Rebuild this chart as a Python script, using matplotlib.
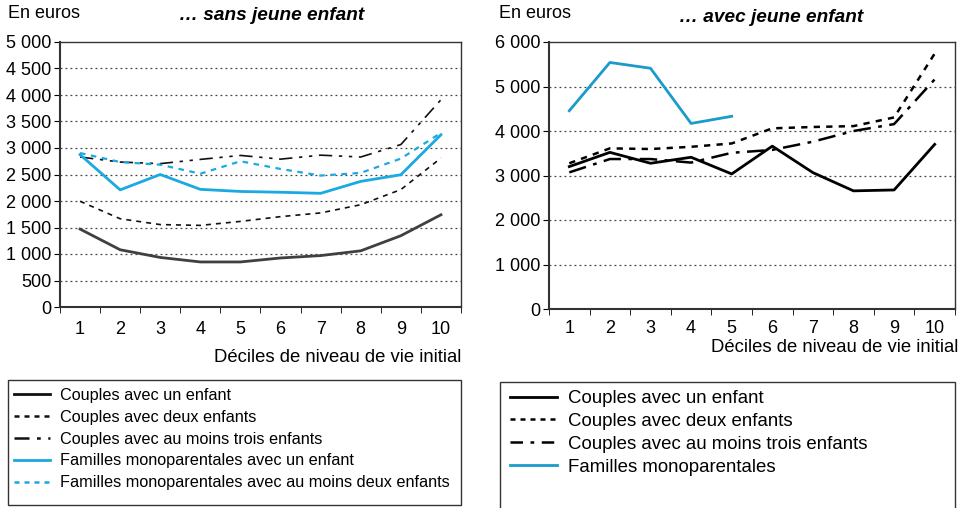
import numpy as np
import matplotlib
matplotlib.use("Agg")
import matplotlib.pyplot as plt
from matplotlib.patches import Rectangle
from matplotlib.lines import Line2D

plt.rcParams['font.family'] = ['Liberation Sans', 'DejaVu Sans']

deciles = list(range(1, 11))

# ... sans jeune enfant
sans_un = [1470, 1080, 935, 850, 850, 925, 970, 1060, 1345, 1740]
sans_deux = [1995, 1665, 1555, 1540, 1615, 1705, 1775, 1930, 2215, 2810]
sans_trois = [2830, 2735, 2705, 2785, 2860, 2790, 2865, 2830, 3065, 3910]
sans_mono_un = [2875, 2210, 2500, 2220, 2180, 2165, 2145, 2370, 2495, 3250]
sans_mono_deux = [2905, 2735, 2685, 2515, 2750, 2605, 2480, 2530, 2800, 3285]

# ... avec jeune enfant
avec_un = [3200, 3520, 3275, 3410, 3035, 3660, 3065, 2655, 2675, 3700]
avec_deux = [3275, 3610, 3595, 3645, 3720, 4060, 4090, 4110, 4305, 5740]
avec_trois = [3070, 3370, 3370, 3290, 3510, 3575, 3760, 4000, 4155, 5160]
avec_mono = [4455, 5540, 5410, 4170, 4330, None, None, None, None, None]

labels_sans = ["Couples avec un enfant", "Couples avec deux enfants",
               "Couples avec au moins trois enfants",
               "Familles monoparentales avec un enfant",
               "Familles monoparentales avec au moins deux enfants"]
labels_avec = ["Couples avec un enfant", "Couples avec deux enfants",
               "Couples avec au moins trois enfants",
               "Familles monoparentales"]

W, H = 962, 508
fig = plt.figure(figsize=(W / 100, H / 100), dpi=100)

BLUE_L = '#1aa9e1'
BLUE_R = '#1b9bc9'
GRID = '#444444'
FS = 13


def fx(px):
    return px / W


def fy(py):
    return 1 - py / H


def style_axes(ax, ymax, step, pad):
    ax.set_xlim(0.5, 10.5)
    ax.set_ylim(0, ymax)
    ax.set_yticks(np.arange(0, ymax + 1, step))
    ax.set_yticklabels([f"{int(v):,}".replace(",", " ") for v in np.arange(0, ymax + 1, step)],
                       fontsize=FS)
    ax.set_xticks(deciles)
    ax.set_xticklabels([str(d) for d in deciles], fontsize=FS)
    ax.set_xticks(np.arange(0.5, 11, 1), minor=True)
    ax.tick_params(axis='x', which='major', length=0, pad=pad)
    ax.tick_params(axis='x', which='minor', length=4, direction='out')
    ax.tick_params(axis='y', length=4, direction='out', pad=2)
    for v in np.arange(step, ymax, step):
        ax.axhline(v, color=GRID, lw=0.9, ls=(0, (1.5, 2.5)), zorder=0)
    for s in ax.spines.values():
        s.set_color('#333333')
        s.set_linewidth(1.0)
    ax.spines['left'].set_linewidth(1.5)
    ax.spines['bottom'].set_linewidth(1.5)


# left panel
ax1 = fig.add_axes([fx(60), fy(307), fx(401), (307 - 42) / H])
style_axes(ax1, 5000, 500, 10)
ax1.plot(deciles, sans_un, color='#404040', lw=2.0)
ax1.plot(deciles, sans_deux, color='#111111', lw=1.2, ls=(0, (3, 3)))
ax1.plot(deciles, sans_trois, color='#111111', lw=1.2, ls=(0, (8, 4, 2, 4, 2, 4)))
ax1.plot(deciles, sans_mono_un, color=BLUE_L, lw=2.0)
ax1.plot(deciles, sans_mono_deux, color=BLUE_L, lw=1.6, ls=(0, (2.5, 2.5)))

fig.text(fx(8), fy(14), "En euros", fontsize=FS, va='center', ha='left')
fig.text(fx(272), fy(16), "\u2026 sans jeune enfant", fontsize=13.7, fontweight='bold',
         fontstyle='italic', va='center', ha='center')
fig.text(fx(461), fy(358), "Déciles de niveau de vie initial", fontsize=13.3,
         va='center', ha='right')

# right panel
ax2 = fig.add_axes([fx(549), fy(309), fx(406), (309 - 42) / H])
style_axes(ax2, 6000, 1000, 8)
mono = np.array([np.nan if v is None else v for v in avec_mono], dtype=float)
ax2.plot(deciles, avec_un, color='black', lw=2.0)
ax2.plot(deciles, avec_deux, color='black', lw=1.8, ls=(0, (2.5, 2.5)))
ax2.plot(deciles, avec_trois, color='black', lw=1.8, ls=(0, (7, 3, 1.5, 3)))
ax2.plot(deciles, mono, color=BLUE_R, lw=2.0)

fig.text(fx(499), fy(14), "En euros", fontsize=FS, va='center', ha='left')
fig.text(fx(771), fy(17), "\u2026 avec jeune enfant", fontsize=13.7, fontweight='bold',
         fontstyle='italic', va='center', ha='center')
fig.text(fx(958), fy(348), "Déciles de niveau de vie initial", fontsize=13.3,
         va='center', ha='right')

# legend boxes
fig.patches.append(Rectangle((fx(8), fy(505)), fx(453), (505 - 380) / H,
                             transform=fig.transFigure, fill=False,
                             ec='#333333', lw=1.0))
fig.patches.append(Rectangle((fx(500), fy(520)), fx(455), (520 - 382) / H,
                             transform=fig.transFigure, fill=False,
                             ec='#333333', lw=1.0))

h_sans = [Line2D([], [], color='#111111', lw=2.0),
          Line2D([], [], color='#111111', lw=1.8, ls=(0, (2, 2))),
          Line2D([], [], color='#111111', lw=1.8, ls=(0, (6, 3, 1.5, 3, 1.5, 3))),
          Line2D([], [], color=BLUE_L, lw=2.0),
          Line2D([], [], color=BLUE_L, lw=1.8, ls=(0, (2, 2)))]
fig.legend(h_sans, labels_sans, loc='upper left', bbox_to_anchor=(fx(14), fy(388)),
           frameon=False, fontsize=11.7, handlelength=2.2, handletextpad=0.6,
           labelspacing=0.42, borderaxespad=0, borderpad=0.0)

h_avec = [Line2D([], [], color='black', lw=2.0),
          Line2D([], [], color='black', lw=1.8, ls=(0, (2, 2))),
          Line2D([], [], color='black', lw=1.8, ls=(0, (5, 3, 1.5, 3))),
          Line2D([], [], color=BLUE_R, lw=2.0)]
fig.legend(h_avec, labels_avec, loc='upper left', bbox_to_anchor=(fx(510), fy(390)),
           frameon=False, fontsize=13.4, handlelength=2.5, handletextpad=0.6,
           labelspacing=0.32, borderaxespad=0, borderpad=0.0)

fig.savefig("out.png", dpi=100)
